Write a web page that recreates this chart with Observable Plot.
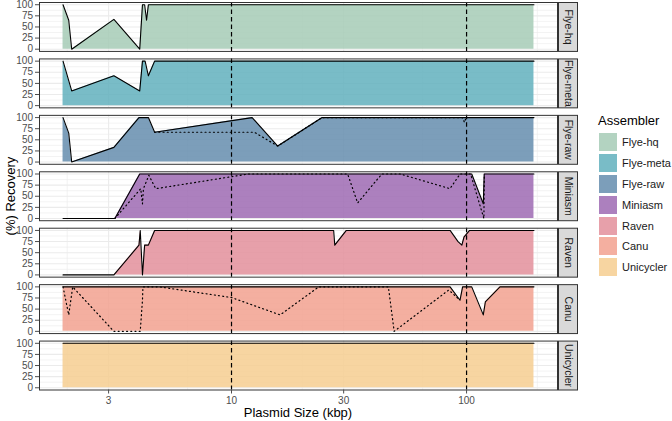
<!DOCTYPE html>
<html><head><meta charset="utf-8">
<script src="https://cdn.jsdelivr.net/npm/d3@7"></script>
<script src="https://cdn.jsdelivr.net/npm/@observablehq/plot@0.6"></script>
<style>
body{margin:0;background:#fff;font-family:"Liberation Sans",Arial,sans-serif;}
#wrap{position:relative;width:672px;height:421px;overflow:hidden;}
#chart{position:absolute;left:0;top:0;}
.ttl{position:absolute;font-size:13px;color:#000;white-space:nowrap;line-height:1;}
.leg-key{position:absolute;width:18px;height:18px;}
.leg-lab{position:absolute;font-size:11px;color:#1a1a1a;white-space:nowrap;line-height:1;}
</style></head><body>
<div id="wrap"><div id="chart"></div></div>
<script>
const assemblers = ["Flye-hq","Flye-meta","Flye-raw","Miniasm","Raven","Canu","Unicycler"];
const fillColors = ["#A6CBB6","#61B0BD","#658DAE","#9D6AB3","#E38F9B","#F2A18F","#F6CE90"];
const xTicks = [3,10,30,100];
const xMinor = [2,6.5,20,65,200];
const yTicks = [0,25,50,75,100];
const yMinor = [12.5,37.5,62.5,87.5];
const markedSizes = [10,100];

// [plasmid size (kbp), % recovery]
const flyeHqSolid = [[1.92,100],[2.03,65],[2.09,0],[3.16,67],[4.07,0],[4.18,100],[4.27,100],[4.35,65],[4.43,100],[193.5,100]];
const flyeHqDotted = [];
const flyeMetaSolid = [[1.92,100],[2.09,33],[3.16,67],[4.07,33],[4.18,100],[4.29,100],[4.43,67],[4.71,100],[193.5,100]];
const flyeMetaDotted = [];
const flyeRawSolid = [[1.92,100],[2.03,65],[2.09,0],[3.16,33],[4.04,100],[4.43,100],[4.71,67],[12.24,100],[15.73,36],[24.3,100],[193.5,100]];
const flyeRawDotted = [[4.71,67],[12.5,67],[15.73,36],[24.3,100],[96,100],[98,89],[99.5,100]];
const miniasmSolid = [[1.92,0],[3.19,0],[4.07,100],[105.2,100],[117.8,33],[118.9,100],[193.5,100]];
const miniasmDotted = [[3.19,0],[4.11,67],[4.18,33],[4.22,67],[4.45,97],[4.76,67],[11.8,100],[31.2,100],[34.4,35],[43.6,100],[52.2,100],[85,67],[93.8,100],[104,100],[118.5,0],[119,100]];
const ravenSolid = [[1.92,0],[3.16,0],[4.04,67],[4.09,100],[4.18,0],[4.27,67],[4.43,67],[4.71,100],[27.2,100],[27.5,67],[30.8,100],[85.1,100],[92,75],[95.5,67],[97.5,85],[103,100],[193.5,100]];
const ravenDotted = [];
const canuSolid = [[1.92,100],[85.1,100],[93.8,70],[96.2,100],[105.2,100],[117.8,37],[120.2,66],[138.7,100],[193.5,100]];
const canuDotted = [[1.92,100],[2.03,37],[2.11,100],[3.16,0],[4.09,0],[4.18,70],[4.2,100],[4.94,100],[10,76],[16.1,37],[23.5,100],[46.5,100],[49.2,0],[84,93],[93.8,70]];
const unicyclerSolid = [[1.92,100],[193.5,100]];
const unicyclerDotted = [];

const solidSeries = [flyeHqSolid, flyeMetaSolid, flyeRawSolid, miniasmSolid, ravenSolid, canuSolid, unicyclerSolid];
const dottedSeries = [flyeHqDotted, flyeMetaDotted, flyeRawDotted, miniasmDotted, ravenDotted, canuDotted, unicyclerDotted];

const toRows = (series) => assemblers.flatMap((a, i) => series[i].map(([size, recovery]) => ({assembler: a, size, recovery})));
const solidRows = toRows(solidSeries);
const dottedRows = toRows(dottedSeries);

// ggplot-like 5% expansion in log space
const [lo, hi] = d3.extent(solidRows, d => Math.log10(d.size));
const pad = (hi - lo) * 0.05;
const xDomain = [10 ** (lo - pad), 10 ** (hi + pad)];

const W = 672, H = 421, mL = 39, mR = 115, mT = 2, mB = 31.5;
const panelW = W - mL - mR;
const fillOpacity = 0.85;

const chart = Plot.plot({
  width: W, height: H,
  marginLeft: mL, marginRight: mR, marginTop: mT, marginBottom: mB,
  style: {fontFamily: '"Liberation Sans", Arial, sans-serif', background: "white"},
  x: {type: "log", domain: xDomain},
  y: {domain: [-5, 105]},
  fy: {domain: assemblers, axis: null, paddingInner: 0.133, paddingOuter: 0, round: false},
  color: {domain: assemblers, range: fillColors},
  marks: [
    Plot.ruleX(xMinor, {stroke: "#ebebeb", strokeWidth: 0.6}),
    Plot.ruleY(yMinor, {stroke: "#ebebeb", strokeWidth: 0.6}),
    Plot.ruleX(xTicks, {stroke: "#ebebeb", strokeWidth: 1.1}),
    Plot.ruleY(yTicks, {stroke: "#ebebeb", strokeWidth: 1.1}),
    Plot.areaY(solidRows, {x: "size", y: "recovery", fy: "assembler", fill: "assembler", fillOpacity}),
    Plot.ruleX(markedSizes, {stroke: "black", strokeWidth: 1.2, strokeDasharray: "4.5,3"}),
    Plot.lineY(dottedRows, {x: "size", y: "recovery", fy: "assembler", z: "assembler", stroke: "black", strokeWidth: 1.2, strokeDasharray: "1,3.2"}),
    Plot.lineY(solidRows, {x: "size", y: "recovery", fy: "assembler", z: "assembler", stroke: "black", strokeWidth: 1.1}),
    Plot.frame({stroke: "#333", strokeWidth: 1}),
    Plot.frame({fill: "#d9d9d9", stroke: "#333", strokeWidth: 1, insetLeft: panelW + 1, insetRight: -20}),
    Plot.text(assemblers, {fy: d => d, text: d => d, frameAnchor: "right", textAnchor: "middle", dx: 10.5, rotate: 90, fontSize: 10.5, fill: "#1a1a1a"}),
    Plot.axisY({ticks: yTicks, tickSize: 4, tickPadding: 2.5, fontSize: 10, color: "#4d4d4d", label: null}),
    Plot.axisX({ticks: xTicks, tickFormat: d => String(d), tickSize: 4, tickPadding: 2.5, fontSize: 10, color: "#4d4d4d", label: null})
  ]
});
document.getElementById("chart").appendChild(chart);

const wrap = d3.select("#wrap");
wrap.append("div").attr("class", "ttl").style("left", (mL + panelW / 2) + "px").style("top", "406px")
  .style("transform", "translateX(-50%)").text("Plasmid Size (kbp)");
wrap.append("div").attr("class", "ttl").style("left", "10px").style("top", ((mT + H - mB) / 2) + "px")
  .style("transform", "translate(-50%,-50%) rotate(-90deg)").text("(%) Recovery");
wrap.append("div").attr("class", "ttl").style("left", "598px").style("top", "114px").text("Assembler");
assemblers.forEach((a, i) => {
  const top = 133.3 + i * 20.8;
  wrap.append("div").attr("class", "leg-key").style("left", "599px").style("top", top + "px")
    .style("background", fillColors[i]).style("opacity", fillOpacity);
  wrap.append("div").attr("class", "leg-lab").style("left", "622px").style("top", (top + 4) + "px").text(a);
});
</script>
</body></html>
